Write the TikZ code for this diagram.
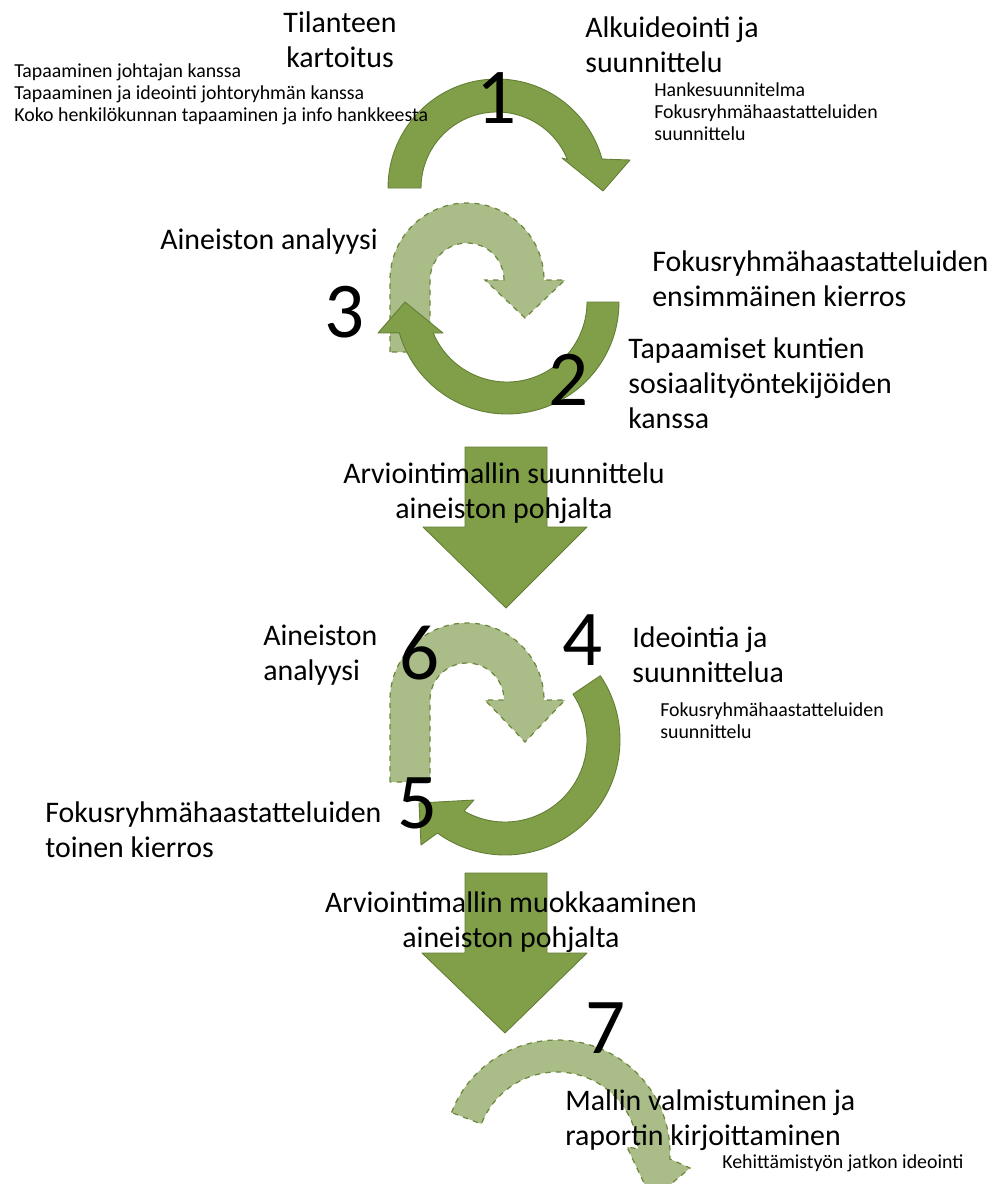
\documentclass[tikz,border=0pt]{standalone}
\usepackage{fontspec}
\setmainfont{Carlito}
\usetikzlibrary{calc}
\definecolor{arrowgreen}{RGB}{128,159,72}
\definecolor{arrowedge}{RGB}{98,126,52}
\definecolor{palegreen}{RGB}{170,188,136}
\definecolor{dashgreen}{RGB}{108,136,60}

\begin{document}
\begin{tikzpicture}[x = 0.02cm, y = 0.02cm,
	darkarrow/.style = {fill = arrowgreen, draw = arrowedge, line width = 0.5pt, line join = round},
	lightarrow/.style = {fill = palegreen, draw = dashgreen, dashed, line width = 0.7pt},
	biglabel/.style = {font = \fontsize{17}{19.8}\selectfont, align = left, inner sep = 0pt},
	smalllabel/.style = {font = \fontsize{11.3}{12.5}\selectfont, align = left, inner sep = 0pt},
	stepno/.style = {font = \fontsize{45}{45}\selectfont, inner sep = 0pt}]

	\useasboundingbox (0,0) rectangle (999,-1184);
	\clip (0,0) rectangle (999,-1184);

	% round 1
	\coordinate (c1) at (497,-188);
	\draw[darkarrow] ($(c1)+(180:109)$) arc[start angle = 180, end angle = 15.4, radius = 109]
		-- (630,-160) -- (603,-191) -- (562,-158) -- ($(c1)+(22:76)$)
		arc[start angle = 22, end angle = 180, radius = 76] -- cycle;

	% round 2 and 3
	\coordinate (c3) at (467,-280);
	\draw[lightarrow] (390,-352) -- (390,-280) arc[start angle = 180, end angle = 0, radius = 77]
		-- (565,-280) -- (525,-318) -- (485,-280) -- (504,-280)
		arc[start angle = 0, end angle = 180, radius = 37] -- (430,-352) -- cycle;
	\coordinate (c2) at (507,-302);
	\draw[darkarrow] ($(c2)+(0:112)$) arc[start angle = 0, end angle = -164, radius = 112]
		-- (378,-333) -- (405,-302) -- (443,-333) -- ($(c2)+(-157.2:80)$)
		arc[start angle = -157.2, end angle = 0, radius = 80] -- cycle;

	\draw[darkarrow] (465,-447) -- (547,-447) -- (547,-527) -- (587,-527) -- (506,-608)
		-- (423,-527) -- (465,-527) -- cycle;

	% round 4, 5 and 6
	\draw[lightarrow] (390,-782) -- (390,-700) arc[start angle = 180, end angle = 0, radius = 77]
		-- (565,-700) -- (525,-742) -- (485,-700) -- (504,-700)
		arc[start angle = 0, end angle = 180, radius = 37] -- (430,-782) -- cycle;
	\coordinate (c4) at (505,-740);
	\draw[darkarrow] ($(c4)+(34:115)$) arc[start angle = 34, end angle = -126, radius = 115]
		-- (421,-845) -- (419,-803) -- (474,-800) -- ($(c4)+(-120:82)$)
		arc[start angle = -120, end angle = 34, radius = 82] -- cycle;

	\draw[darkarrow] (465,-873) -- (547,-873) -- (547,-953) -- (587,-953) -- (505,-1033)
		-- (422,-953) -- (465,-953) -- cycle;

	% round 7
	\coordinate (c7) at (557,-1153);
	\draw[lightarrow] ($(c7)+(159:113)$) arc[start angle = 159, end angle = -3, radius = 113]
		-- (690,-1168) -- (652,-1200) -- (627,-1147) -- ($(c7)+(3:81)$)
		arc[start angle = 3, end angle = 159, radius = 81] -- cycle;

	\node[biglabel, align = center] (kartoitus) at (340,-40) {Tilanteen\\kartoitus};
	\node[biglabel, anchor = west] (alku) at (585,-45) {Alkuideointi ja\\suunnittelu};
	\node[smalllabel, anchor = west] (tapaamiset) at (14,-94) {Tapaaminen johtajan kanssa\\Tapaaminen ja ideointi johtoryhmän kanssa\\Koko henkilökunnan tapaaminen ja info hankkeesta};
	\node[smalllabel, anchor = west] (hanke) at (654,-112) {Hankesuunnitelma\\Fokusryhmähaastatteluiden\\suunnittelu};
	\node[stepno] (n1) at (497,-98) {1};

	\node[biglabel, anchor = west] (analyysi1) at (160,-242) {Aineiston analyysi};
	\node[stepno] (n3) at (345,-312) {3};
	\node[biglabel, anchor = west] (kierros1) at (652,-279) {Fokusryhmähaastatteluiden\\ensimmäinen kierros};
	\node[biglabel, anchor = west] (kunnat) at (628,-383) {Tapaamiset kuntien\\sosiaalityöntekijöiden\\kanssa};
	\node[stepno] (n2) at (569,-380) {2};
	\node[biglabel, align = center] (suunnittelu) at (504,-493) {Arviointimallin suunnittelu\\aineiston pohjalta};

	\node[biglabel, anchor = west] (analyysi2) at (263,-655) {Aineiston\\analyysi};
	\node[stepno] (n6) at (420,-653) {6};
	\node[stepno] (n4) at (583,-640) {4};
	\node[biglabel, anchor = west] (ideointi) at (632,-655) {Ideointia ja\\suunnittelua};
	\node[smalllabel, anchor = west] (fokus2) at (660,-721) {Fokusryhmähaastatteluiden\\suunnittelu};
	\node[stepno] (n5) at (418,-803) {5};
	\node[biglabel, anchor = west] (kierros2) at (45,-830) {Fokusryhmähaastatteluiden\\toinen kierros};
	\node[biglabel, align = center] (muokkaus) at (511,-922) {Arviointimallin muokkaaminen\\aineiston pohjalta};

	\node[stepno] (n7) at (606,-1028) {7};
	\node[biglabel, anchor = west] (valmis) at (565,-1120) {Mallin valmistuminen ja\\raportin kirjoittaminen};
	\node[smalllabel, anchor = west] (jatko) at (722,-1163) {Kehittämistyön jatkon ideointi};

\end{tikzpicture}
\end{document}
